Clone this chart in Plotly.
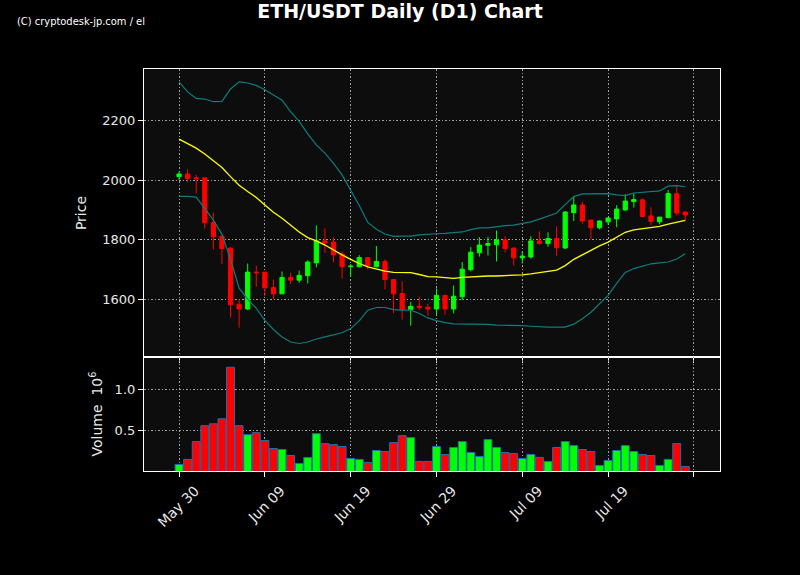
import pandas as pd
import plotly.graph_objects as go
from plotly.subplots import make_subplots

# daily candles, 60 days
dates = pd.date_range('2023-05-30', periods=60, freq='D')

opens = [2012, 2021, 2008, 2008, 1858, 1812, 1772, 1583, 1567, 1691,
         1691, 1639, 1618, 1673, 1664, 1679, 1722, 1796, 1792, 1752,
         1709, 1709, 1740, 1709, 1727, 1666, 1619, 1565, 1576, 1573,
         1567, 1613, 1567, 1608, 1699, 1756, 1781, 1783, 1799, 1772,
         1739, 1742, 1796, 1787, 1804, 1772, 1891, 1917, 1866, 1840,
         1860, 1870, 1900, 1928, 1934, 1880, 1860, 1874, 1955, 1893]
highs = [2029, 2037, 2018, 2008, 1891, 1812, 1774, 1599, 1720, 1713,
         1691, 1666, 1693, 1689, 1696, 1731, 1848, 1838, 1808, 1760,
         1718, 1748, 1740, 1779, 1734, 1666, 1660, 1591, 1608, 1585,
         1636, 1613, 1646, 1725, 1775, 1809, 1809, 1831, 1812, 1772,
         1761, 1812, 1828, 1825, 1845, 1896, 1946, 1928, 1866, 1865,
         1875, 1916, 1953, 1956, 1939, 1909, 1876, 1967, 1981, 1893]
lows = [2001, 1993, 1956, 1838, 1767, 1718, 1538, 1504, 1563, 1642,
        1610, 1601, 1618, 1651, 1655, 1653, 1707, 1756, 1724, 1670,
        1675, 1707, 1700, 1707, 1633, 1552, 1531, 1511, 1563, 1545,
        1549, 1548, 1552, 1597, 1693, 1743, 1747, 1727, 1757, 1713,
        1720, 1736, 1784, 1776, 1746, 1769, 1863, 1854, 1801, 1835,
        1851, 1842, 1898, 1908, 1876, 1849, 1852, 1873, 1882, 1866]
closes = [2021, 2006, 2005, 1857, 1810, 1770, 1581, 1567, 1691, 1689,
          1638, 1618, 1673, 1664, 1680, 1725, 1796, 1789, 1749, 1709,
          1711, 1740, 1713, 1727, 1666, 1618, 1565, 1576, 1572, 1567,
          1613, 1567, 1610, 1701, 1758, 1782, 1787, 1799, 1770, 1739,
          1745, 1796, 1787, 1804, 1773, 1893, 1917, 1863, 1840, 1863,
          1873, 1903, 1930, 1935, 1878, 1861, 1876, 1955, 1890, 1883]

# volume in units of 10^6
volumes = [0.095, 0.155, 0.369, 0.560, 0.583, 0.643, 1.262, 0.560, 0.452, 0.476,
           0.381, 0.286, 0.274, 0.202, 0.107, 0.179, 0.464, 0.345, 0.333, 0.310,
           0.167, 0.155, 0.119, 0.262, 0.250, 0.357, 0.440, 0.417, 0.131, 0.131,
           0.310, 0.214, 0.298, 0.369, 0.238, 0.190, 0.393, 0.298, 0.238, 0.226,
           0.167, 0.214, 0.179, 0.131, 0.298, 0.369, 0.321, 0.274, 0.250, 0.083,
           0.143, 0.262, 0.321, 0.250, 0.214, 0.202, 0.083, 0.155, 0.345, 0.071]

# bollinger bands
sma = [2138, 2122, 2108, 2088, 2065, 2043, 2012, 1983, 1962, 1942,
       1917, 1892, 1872, 1848, 1826, 1807, 1796, 1782, 1765, 1749,
       1734, 1720, 1709, 1702, 1694, 1690, 1690, 1689, 1683, 1676,
       1675, 1673, 1670, 1673, 1675, 1678, 1678, 1678, 1679, 1680,
       1682, 1685, 1690, 1693, 1698, 1713, 1734, 1749, 1765, 1779,
       1792, 1808, 1825, 1833, 1837, 1840, 1845, 1852, 1858, 1865]
upper = [2331, 2297, 2275, 2273, 2264, 2265, 2307, 2331, 2327, 2319,
         2304, 2285, 2269, 2231, 2198, 2156, 2119, 2091, 2057, 2018,
         1967, 1915, 1858, 1835, 1819, 1811, 1812, 1812, 1816, 1819,
         1820, 1821, 1824, 1826, 1834, 1840, 1840, 1844, 1847, 1849,
         1854, 1860, 1869, 1880, 1890, 1918, 1945, 1954, 1955, 1955,
         1955, 1951, 1948, 1957, 1960, 1962, 1964, 1980, 1982, 1978]
lower = [1946, 1946, 1943, 1906, 1866, 1818, 1734, 1637, 1600, 1569,
         1529, 1498, 1473, 1456, 1451, 1456, 1466, 1473, 1479, 1487,
         1501, 1527, 1563, 1572, 1572, 1565, 1563, 1563, 1552, 1537,
         1528, 1521, 1517, 1517, 1516, 1515, 1515, 1513, 1513, 1512,
         1511, 1509, 1507, 1506, 1506, 1506, 1516, 1534, 1556, 1583,
         1613, 1653, 1690, 1703, 1712, 1719, 1722, 1725, 1735, 1753]

tick_dates = ['2023-05-30', '2023-06-09', '2023-06-19', '2023-06-29',
              '2023-07-09', '2023-07-19', '2023-07-29']
tick_text = ['May 30', 'Jun 09', 'Jun 19', 'Jun 29', 'Jul 09', 'Jul 19', ' ']

GREEN = '#00ff00'
RED = '#ff0000'
vol_colors = [GREEN if c >= o else RED for o, c in zip(opens, closes)]

fig = make_subplots(rows=2, cols=1, shared_xaxes=True, vertical_spacing=0,
                    row_heights=[0.7164, 0.2836])

fig.add_trace(go.Scatter(x=dates, y=upper, mode='lines',
                         line=dict(color='#0e7d7d', width=1.2)), row=1, col=1)
fig.add_trace(go.Scatter(x=dates, y=lower, mode='lines',
                         line=dict(color='#0e7d7d', width=1.2)), row=1, col=1)
fig.add_trace(go.Scatter(x=dates, y=sma, mode='lines',
                         line=dict(color='#ffff00', width=1.3)), row=1, col=1)
fig.add_trace(go.Candlestick(x=dates, open=opens, high=highs, low=lows, close=closes,
                             increasing=dict(line=dict(color=GREEN, width=1), fillcolor=GREEN),
                             decreasing=dict(line=dict(color=RED, width=1), fillcolor=RED),
                             whiskerwidth=0), row=1, col=1)
fig.add_trace(go.Bar(x=dates, y=volumes, width=0.92 * 86400000,
                     marker=dict(color=vol_colors, line=dict(color='#1f6fb0', width=1))),
              row=2, col=1)

axis_style = dict(showline=True, linecolor='white', linewidth=1.2, mirror=True,
                  ticks='outside', ticklen=5, tickcolor='white',
                  showgrid=True, gridcolor='#a0a0a0', griddash='1.5px,2px', gridwidth=1,
                  zeroline=False, tickfont=dict(color='#e8e8e8', size=13))

x_start = pd.Timestamp('2023-05-30') - pd.Timedelta(hours=98)
x_end = pd.Timestamp('2023-05-30') + pd.Timedelta(hours=1513)

fig.update_xaxes(**axis_style, type='date', range=[x_start, x_end],
                 tickvals=tick_dates, ticktext=tick_text, rangeslider=dict(visible=False))
fig.update_xaxes(showticklabels=False, row=1, col=1)
# matplotlib-style rotated labels centred on the tick
fig.update_xaxes(tickangle=-45, tickfont=dict(size=14), ticklabelshift=16,
                 row=2, col=1)

fig.update_yaxes(**axis_style)
fig.update_yaxes(range=[1405.6, 2374], tickvals=[1600, 1800, 2000, 2200],
                 title=dict(text='Price', font=dict(color='#e8e8e8', size=14), standoff=12),
                 row=1, col=1)
fig.update_yaxes(range=[0.016, 1.385], tickvals=[0.5, 1.0], ticktext=['0.5', '1.0'],
                 title=dict(text='Volume  10<sup>6</sup>', font=dict(color='#e8e8e8', size=14),
                            standoff=8),
                 row=2, col=1)

fig.update_layout(
    width=800, height=575,
    margin=dict(l=144, r=80, t=69, b=104),
    paper_bgcolor='#000000', plot_bgcolor='#0d0d0d',
    font=dict(family='DejaVu Sans', color='white'),
    showlegend=False,
    title=dict(text='<b>ETH/USDT Daily (D1) Chart</b>', x=0.5, xanchor='center',
               y=1 - 11 / 575, yanchor='middle', yref='container',
               font=dict(size=19, color='white', family='DejaVu Sans')),
    annotations=[dict(text='(C) cryptodesk-jp.com / el', xref='paper', yref='paper',
                      x=(15 - 144) / 576, y=1 + (69 - 21) / 402,
                      xanchor='left', yanchor='middle', showarrow=False,
                      font=dict(size=11, color='white',
                                family='Liberation Sans Narrow, DejaVu Sans Condensed, Liberation Sans, sans-serif'))],
)

# drop the default page margin so the figure sits at the window corner
fig.write_html('out.html', config={'displayModeBar': False},
               post_script="document.body.style.margin='0';document.body.style.background='#000';")
